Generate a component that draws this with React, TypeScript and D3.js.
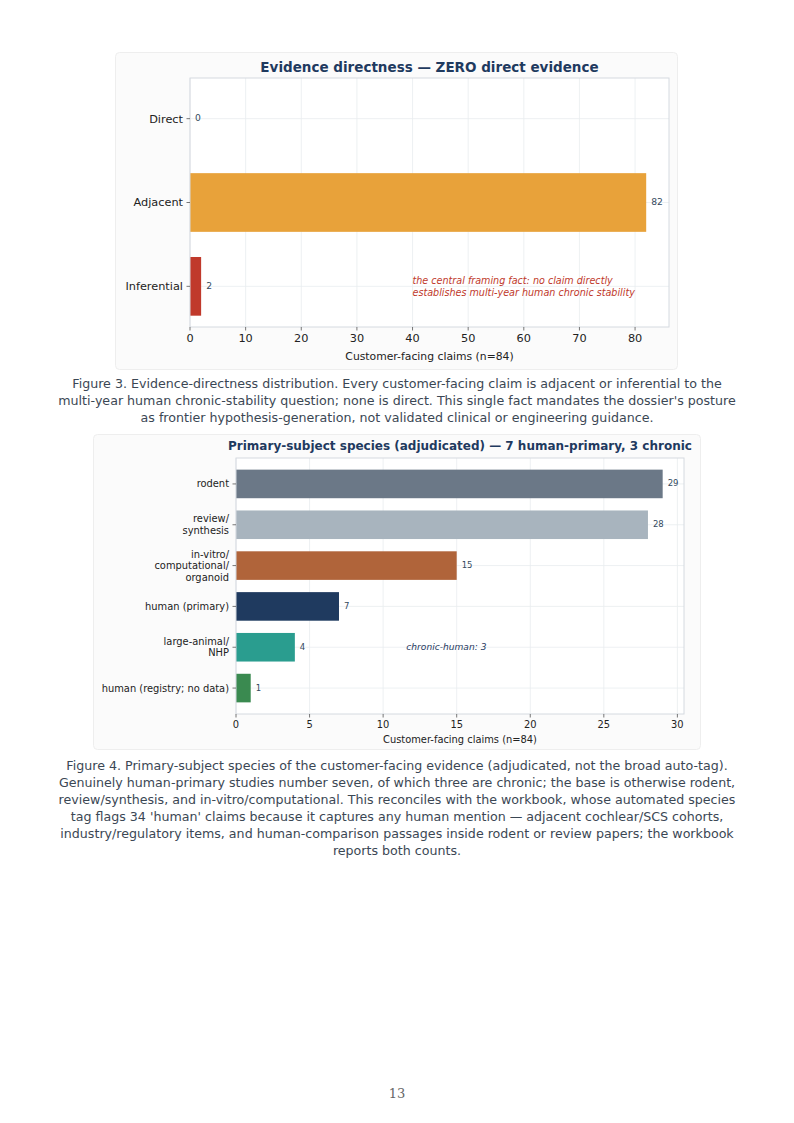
import React from "react";
import * as d3 from "d3";

const dirCats = ["Direct", "Adjacent", "Inferential"];
const dirVals = [0, 82, 2];
const dirColors = ["#e8a23a", "#e8a23a", "#c0392b"];
const dirTicks = [0, 10, 20, 30, 40, 50, 60, 70, 80];

const spCats = [
  ["rodent"],
  ["review/", "synthesis"],
  ["in-vitro/", "computational/", "organoid"],
  ["human (primary)"],
  ["large-animal/", "NHP"],
  ["human (registry; no data)"],
];
const spVals = [29, 28, 15, 7, 4, 1];
const spColors = ["#6b7887", "#a8b4be", "#b0643a", "#1f3a5f", "#2a9d8f", "#3a8a50"];
const spTicks = [0, 5, 10, 15, 20, 25, 30];

const caption1 = [
  "Figure 3. Evidence-directness distribution. Every customer-facing claim is adjacent or inferential to the",
  "multi-year human chronic-stability question; none is direct. This single fact mandates the dossier's posture",
  "as frontier hypothesis-generation, not validated clinical or engineering guidance.",
];
const caption2 = [
  "Figure 4. Primary-subject species of the customer-facing evidence (adjudicated, not the broad auto-tag).",
  "Genuinely human-primary studies number seven, of which three are chronic; the base is otherwise rodent,",
  "review/synthesis, and in-vitro/computational. This reconciles with the workbook, whose automated species",
  "tag flags 34 'human' claims because it captures any human mention \u2014 adjacent cochlear/SCS cohorts,",
  "industry/regulatory items, and human-comparison passages inside rodent or review papers; the workbook",
  "reports both counts.",
];

const FONT = "'DejaVu Sans', sans-serif";
const TITLE = "#1f3a5f";
const LABEL = "#34495e";
const GRID = "#e9ecef";
const SPINE = "#d5dae0";

function yScale(n: number, top: number, bottom: number) {
  const h = 0.7;
  const span = n - 1 + h;
  const m = 0.05 * span;
  return d3.scaleLinear().domain([-h / 2 - m, n - 1 + h / 2 + m]).range([top, bottom]);
}

function Chart1() {
  const L = 190, R = 669, T = 78, B = 327;
  const x = d3.scaleLinear().domain([0, 82 * 1.05]).range([L, R]);
  const y = yScale(dirCats.length, T, B);
  const bh = y(0.35) - y(0);
  return (
    <g>
      <rect x={115.5} y={52.5} width={562} height={317} rx={4} fill="#fbfbfb" stroke="#eeeeee" />
      <rect x={L} y={T} width={R - L} height={B - T} fill="#ffffff" />
      {dirTicks.map((t) => (
        <line key={"g" + t} x1={x(t)} x2={x(t)} y1={T} y2={B} stroke={GRID} strokeWidth={0.8} />
      ))}
      {dirCats.map((c, i) => (
        <line key={"h" + c} x1={L} x2={R} y1={y(i)} y2={y(i)} stroke={GRID} strokeWidth={0.8} />
      ))}
      {dirCats.map((c, i) =>
        dirVals[i] > 0 ? (
          <rect key={"b" + c} x={x(0)} y={y(i) - bh} width={x(dirVals[i]) - x(0)} height={2 * bh} fill={dirColors[i]} />
        ) : null
      )}
      {dirCats.map((c, i) => (
        <text key={"v" + c} x={x(dirVals[i]) + 5} y={y(i)} dy="0.3em" fontSize={9.2} fill={LABEL} fontFamily={FONT}>
          {dirVals[i]}
        </text>
      ))}
      <rect x={L} y={T} width={R - L} height={B - T} fill="none" stroke={SPINE} strokeWidth={1} />
      {dirTicks.map((t) => (
        <g key={"t" + t}>
          <line x1={x(t)} x2={x(t)} y1={B} y2={B + 3.5} stroke="#555" strokeWidth={0.8} />
          <text x={x(t)} y={B + 14.5} textAnchor="middle" fontSize={11.3} fill="#222" fontFamily={FONT}>{t}</text>
        </g>
      ))}
      {dirCats.map((c, i) => (
        <g key={"yl" + c}>
          <line x1={L - 3.5} x2={L} y1={y(i)} y2={y(i)} stroke="#555" strokeWidth={0.8} />
          <text x={L - 7} y={y(i)} dy="0.35em" textAnchor="end" fontSize={11.3} fill="#222" fontFamily={FONT}>{c}</text>
        </g>
      ))}
      <text x={(L + R) / 2} y={72} textAnchor="middle" fontSize={13.5} fontWeight="bold" fill={TITLE} fontFamily={FONT}>
        Evidence directness — ZERO direct evidence
      </text>
      <text x={(L + R) / 2} y={360} textAnchor="middle" fontSize={10.8} fill="#222" fontFamily={FONT}>
        Customer-facing claims (n=84)
      </text>
      <text x={x(40)} y={284} fontSize={9.6} fontStyle="italic" fill="#c0392b" fontFamily={FONT}>
        <tspan x={x(40)}>the central framing fact: no claim directly</tspan>
        <tspan x={x(40)} dy={11.5}>establishes multi-year human chronic stability</tspan>
      </text>
    </g>
  );
}

function Chart2() {
  const L = 236, R = 684, T = 458, B = 714;
  const x = d3.scaleLinear().domain([0, 29 * 1.05]).range([L, R]);
  const y = yScale(spCats.length, T, B);
  const bh = y(0.35) - y(0);
  const lh = 11.5;
  return (
    <g>
      <rect x={93.5} y={434.5} width={607} height={315} rx={4} fill="#fbfbfb" stroke="#eeeeee" />
      <rect x={L} y={T} width={R - L} height={B - T} fill="#ffffff" />
      {spTicks.map((t) => (
        <line key={"g" + t} x1={x(t)} x2={x(t)} y1={T} y2={B} stroke={GRID} strokeWidth={0.8} />
      ))}
      {spCats.map((c, i) => (
        <line key={"h" + i} x1={L} x2={R} y1={y(i)} y2={y(i)} stroke={GRID} strokeWidth={0.8} />
      ))}
      {spCats.map((c, i) => (
        <rect key={"b" + i} x={x(0)} y={y(i) - bh} width={x(spVals[i]) - x(0)} height={2 * bh} fill={spColors[i]} />
      ))}
      {spCats.map((c, i) => (
        <text key={"v" + i} x={x(spVals[i]) + 5} y={y(i)} dy="0.3em" fontSize={8.5} fill={LABEL} fontFamily={FONT}>
          {spVals[i]}
        </text>
      ))}
      <rect x={L} y={T} width={R - L} height={B - T} fill="none" stroke={SPINE} strokeWidth={1} />
      {spTicks.map((t) => (
        <g key={"t" + t}>
          <line x1={x(t)} x2={x(t)} y1={B} y2={B + 3.5} stroke="#555" strokeWidth={0.8} />
          <text x={x(t)} y={B + 13.5} textAnchor="middle" fontSize={9.9} fill="#222" fontFamily={FONT}>{t}</text>
        </g>
      ))}
      {spCats.map((lines, i) => (
        <g key={"yl" + i}>
          <line x1={L - 3.5} x2={L} y1={y(i)} y2={y(i)} stroke="#555" strokeWidth={0.8} />
          <text x={L - 7} y={y(i) - ((lines.length - 1) * lh) / 2} textAnchor="end" fontSize={9.9} fill="#222" fontFamily={FONT}>
            {lines.map((ln, k) => (
              <tspan key={k} x={L - 7} dy={k === 0 ? "0.35em" : lh}>{ln}</tspan>
            ))}
          </text>
        </g>
      ))}
      <text x={(L + R) / 2} y={450} textAnchor="middle" fontSize={12} fontWeight="bold" fill={TITLE} fontFamily={FONT}>
        Primary-subject species (adjudicated) — 7 human-primary, 3 chronic
      </text>
      <text x={(L + R) / 2} y={742.5} textAnchor="middle" fontSize={9.9} fill="#222" fontFamily={FONT}>
        Customer-facing claims (n=84)
      </text>
      <text x={x(14.3)} y={y(4)} dy="0.35em" textAnchor="middle" fontSize={9.1} fontStyle="italic" fill={TITLE} fontFamily={FONT}>
        chronic-human: 3
      </text>
    </g>
  );
}

function Caption({ lines, y0 }: { lines: string[]; y0: number }) {
  return (
    <text fontSize={12.65} fill="#3b4754" fontFamily={FONT} textAnchor="middle">
      {lines.map((ln, i) => (
        <tspan key={i} x={397} y={y0 + i * 17}>{ln}</tspan>
      ))}
    </text>
  );
}

export default function App() {
  return (
    <svg width={794} height={1123} style={{ position: "absolute", left: 0, top: 0, background: "#fff" }}>
      <rect width={794} height={1123} fill="#ffffff" />
      <Chart1 />
      <Caption lines={caption1} y0={387.5} />
      <Chart2 />
      <Caption lines={caption2} y0={769.5} />
      <text x={397} y={1098} textAnchor="middle" fontSize={13} fill="#666" fontFamily="'DejaVu Serif', serif">13</text>
    </svg>
  );
}
